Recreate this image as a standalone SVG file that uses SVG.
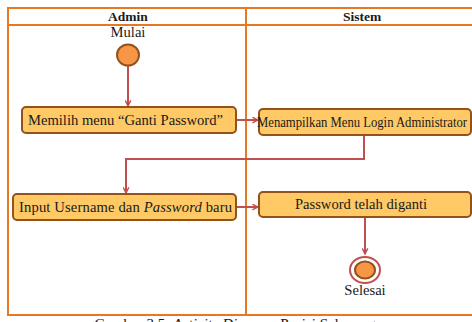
<svg xmlns="http://www.w3.org/2000/svg" width="472" height="322" viewBox="0 0 472 322">
  <defs>
    <marker id="arrow" viewBox="0 0 10 10" refX="9" refY="5" markerWidth="7" markerHeight="7" orient="auto" markerUnits="userSpaceOnUse">
      <path d="M1,1 L9,5 L1,9" fill="none" stroke="#C0504D" stroke-width="2"/>
    </marker>
    <style>
      .lane { fill: none; stroke: #E87722; stroke-width: 2; }
      .head { font-family: "Liberation Serif", serif; font-size: 13.5px; font-weight: bold; fill: #1a1a1a; text-anchor: middle; }
      .act rect { fill: #FFC965; stroke: #94511A; stroke-width: 2; }
      .lbl { font-family: "Liberation Serif", serif; font-size: 14.6px; fill: #1a1a1a; }
      .flow { fill: none; stroke: #C0504D; stroke-width: 2; marker-end: url(#arrow); }
      .dot { fill: #F79646; stroke: #94511A; stroke-width: 2; }
    </style>
  </defs>

  <rect width="472" height="322" fill="#ffffff"/>

  <!-- swimlane frame -->
  <g id="lanes">
    <rect class="lane" x="8" y="8" width="470" height="307"/>
    <line class="lane" x1="8" y1="25" x2="472" y2="25"/>
    <line class="lane" x1="246" y1="8" x2="246" y2="315"/>
    <text class="head" x="128" y="21">Admin</text>
    <text class="head" x="362" y="21">Sistem</text>
  </g>

  <!-- connectors -->
  <g id="connectors">
    <path class="flow" d="M128,66 V106"/>
    <path class="flow" d="M236,120 H258"/>
    <path class="flow" d="M364,135 V159 H126 V193"/>
    <path class="flow" d="M236,207 H258"/>
    <path class="flow" d="M365,217 V254"/>
  </g>

  <g id="start">
    <text class="lbl" x="128" y="37" text-anchor="middle">Mulai</text>
    <ellipse class="dot" cx="128" cy="55" rx="11" ry="10.5"/>
  </g>

  <g id="pilih-menu" class="act">
    <rect x="22" y="107" width="214" height="26" rx="4"/>
    <text class="lbl" x="28" y="124.5" textLength="195">Memilih menu “Ganti Password”</text>
  </g>

  <g id="tampil-login" class="act">
    <rect x="259" y="109" width="212" height="26" rx="4"/>
    <text class="lbl" x="257" y="126.5" font-size="13.5" textLength="210" lengthAdjust="spacingAndGlyphs">Menampilkan Menu Login Administrator</text>
  </g>

  <g id="input-baru" class="act">
    <rect x="13" y="194" width="223" height="26" rx="4"/>
    <text class="lbl" x="19" y="211.5" textLength="213">Input Username dan <tspan font-style="italic">Password</tspan> baru</text>
  </g>

  <g id="password-diganti" class="act">
    <rect x="259" y="192" width="212" height="25" rx="4"/>
    <text class="lbl" x="361" y="209" text-anchor="middle">Password telah diganti</text>
  </g>

  <g id="end">
    <ellipse cx="365" cy="270" rx="15" ry="13" fill="#ffffff" stroke="#C0504D" stroke-width="2"/>
    <ellipse class="dot" cx="365" cy="270" rx="10" ry="8.5"/>
    <text class="lbl" x="365" y="295" text-anchor="middle">Selesai</text>
  </g>

  <text x="235" y="329" text-anchor="middle" font-family="Liberation Serif, serif" font-size="15" fill="#1a1a1a">Gambar 3.5. <tspan font-style="italic">Activity Diagram</tspan> Posisi Sekarang</text>
</svg>
